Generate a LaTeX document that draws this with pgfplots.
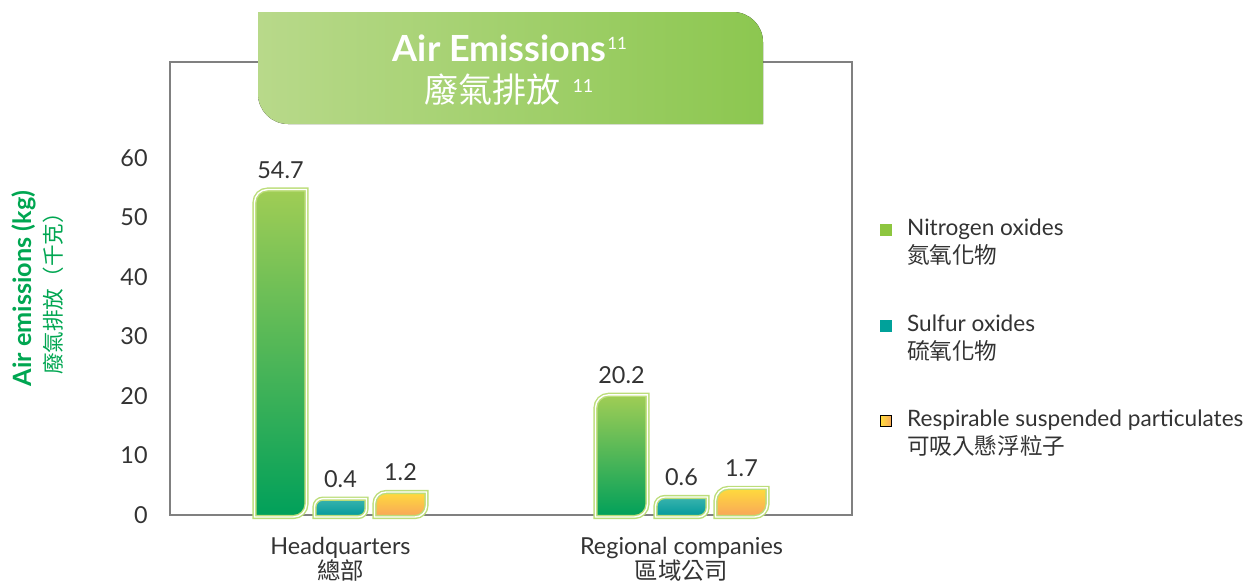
\documentclass[border=0pt]{standalone}
\usepackage{fontspec}
\setmainfont{Lato}
\newfontfamily\cjk{Noto Sans CJK TC}
\usepackage{pgfplots}
\pgfplotsset{compat=1.18}
\usepackage{pgfplotstable}

\definecolor{tgray}{HTML}{333333}
\definecolor{ygreen}{HTML}{00A651}
\definecolor{axgray}{HTML}{808080}
\definecolor{outl}{HTML}{BCDD7A}
\definecolor{nTop}{HTML}{A0CD55}
\definecolor{nBot}{HTML}{00A05A}
\definecolor{nLeg}{HTML}{8DC63F}
\definecolor{sTop}{HTML}{3AB4AE}
\definecolor{sBot}{HTML}{00989A}
\definecolor{sLeg}{HTML}{00A19A}
\definecolor{rTop}{HTML}{FFDC3C}
\definecolor{rBot}{HTML}{F8A55A}
\definecolor{banL}{HTML}{B8D98A}
\definecolor{banR}{HTML}{8CC750}

\pgfdeclareplotmark{emptymark}{}
\newcommand\tfont{\fontsize{11.7}{14}\selectfont}

% one leaf-shaped bar, drawn at the current data point (origin = point)
\newcommand\leafbar[3]{%
  \pgfmathsetmacro\hval{\rawy*2.975}%
  \pgfmathsetmacro\hdraw{\hval<20 ? 6.5+1.4*\hval : \hval}%
  \pgfmathsetmacro\yb{-\hval-1}%
  \pgfmathsetmacro\yt{-\hval+\hdraw}%
  \pgfmathsetmacro\rr{min(6.5,\hdraw/2)}%
  \pgfmathsetmacro\xl{#1-13}%
  \pgfmathsetmacro\xr{#1+13}%
  \pgfmathsetmacro\ytr{\yt-\rr}%
  \pgfmathsetmacro\ybr{\yb+\rr}%
  \pgfmathsetmacro\ylab{\yt+5.75}%
  \path[top color=#2, bottom color=#3, draw=outl, double=white,
        line width=0.7pt, double distance=0.7pt]
    (\xl pt,\yb pt) -- (\xl pt,\ytr pt)
    arc[start angle=180,end angle=90,radius=\rr pt] -- (\xr pt,\yt pt)
    -- (\xr pt,\ybr pt) arc[start angle=0,end angle=-90,radius=\rr pt] -- cycle;
  \node[anchor=base, inner sep=0pt, text=tgray, font=\tfont] at (#1 pt,\ylab pt)
    {\pgfmathprintnumber[fixed,fixed zerofill,precision=1]{\rawy}};
}

\pgfplotstableread{
x y
0 54.7
1 20.2
}\nitro
\pgfplotstableread{
x y
0 0.4
1 0.6
}\sulfur
\pgfplotstableread{
x y
0 1.2
1 1.7
}\rsp

\begin{document}
\begin{tikzpicture}
\begin{axis}[
  scale only axis, x=170.5pt, y=2.975pt,
  xmin=-0.5, xmax=1.5, ymin=0, ymax=76.13,
  clip=false,
  axis line style={draw=axgray, line width=0.7pt},
  major tick length=0pt,
  xtick={0,1},
  xticklabels={{Headquarters\\{\cjk 總部}},{Regional companies\\{\cjk 區域公司}}},
  ytick={0,10,...,60},
  /pgf/number format/assume math mode=true,
  tick label style={font=\tfont, text=tgray},
  yticklabel style={inner sep=0pt, xshift=-11pt},
  xticklabel style={align=center, inner sep=0pt, yshift=-11pt, font=\fontsize{11.7}{12.5}\selectfont},
  ylabel={{\fontsize{12.6}{15}\selectfont\bfseries Air emissions (kg)}\\{\cjk\fontsize{10.8}{15}\selectfont 廢氣排放（千克）}},
  ylabel style={at={(axis description cs:-0.1935,0.5)}, anchor=center, align=center,
                text=ygreen, font=\fontsize{12}{15}\selectfont, inner sep=0pt},
  legend style={at={(axis description cs:1.041,0.655)}, anchor=north west, draw=none, fill=none,
                inner sep=0pt, row sep=24pt, column sep=7.5pt,
                nodes={inner sep=0pt, align=left, text=tgray, font=\fontsize{11.3}{14}\selectfont}},
  legend cell align=left,
]
\addplot[scatter, only marks, mark=emptymark, visualization depends on={rawy \as \rawy},
  scatter/@pre marker code/.code={\leafbar{-30}{nTop}{nBot}},
  scatter/@post marker code/.code={},
  legend image code/.code={\fill[nLeg] (0pt,3.5pt) rectangle (5.5pt,9pt);}]
  table[x=x,y=y]{\nitro};
\addlegendentry{Nitrogen oxides\\{\cjk 氮氧化物}}
\addplot[scatter, only marks, mark=emptymark, visualization depends on={rawy \as \rawy},
  scatter/@pre marker code/.code={\leafbar{0}{sTop}{sBot}},
  scatter/@post marker code/.code={},
  legend image code/.code={\fill[sLeg] (0pt,3.5pt) rectangle (5.5pt,9pt);}]
  table[x=x,y=y]{\sulfur};
\addlegendentry{Sulfur oxides\\{\cjk 硫氧化物}}
\addplot[scatter, only marks, mark=emptymark, visualization depends on={rawy \as \rawy},
  scatter/@pre marker code/.code={\leafbar{30}{rTop}{rBot}},
  scatter/@post marker code/.code={},
  legend image code/.code={\fill[left color=rTop, right color=rBot] (0pt,3.5pt) rectangle (5.5pt,9pt);}]
  table[x=x,y=y]{\rsp};
\addlegendentry{Respirable suspended particulates\\{\cjk 可吸入懸浮粒子}}
\end{axis}
% title banner
\fill[left color=banL, right color=banR] (44pt,251.5pt) -- (281.5pt,251.5pt)
  arc[start angle=90,end angle=0,radius=15pt] -- (296.5pt,195.5pt) -- (59pt,195.5pt)
  arc[start angle=270,end angle=180,radius=15pt] -- cycle;
\node[anchor=base, text=white, inner sep=0pt, font=\fontsize{18}{20}\selectfont\bfseries]
  at (170pt,226.6pt) {Air Emissions\hspace{0.5pt}\raisebox{6.3pt}{\fontsize{8.5}{9}\selectfont\mdseries 11}};
\node[text=white, inner sep=0pt, font=\fontsize{17}{20}\selectfont]
  at (169.5pt,212.5pt) {{\cjk 廢氣排放}\hspace{0.35em}\raisebox{5.3pt}{\fontsize{9}{9}\selectfont 11}};
\pgfresetboundingbox
\path (-85pt,-35.5pt) rectangle (541pt,257.5pt);
\end{tikzpicture}
\end{document}
